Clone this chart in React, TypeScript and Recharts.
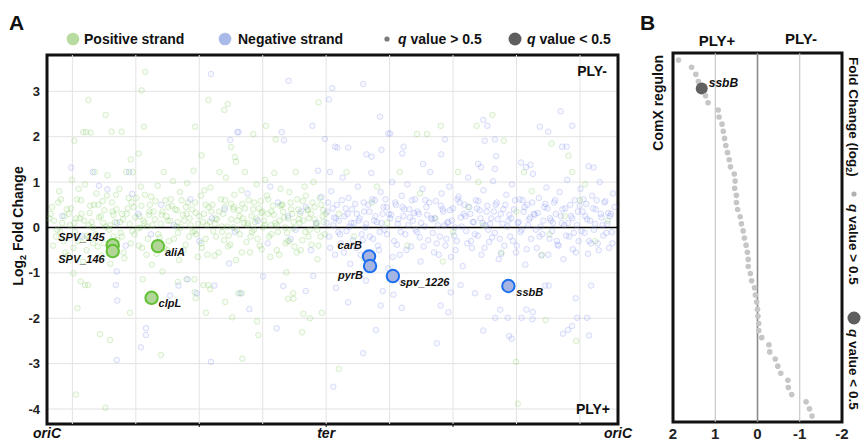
import { ScatterChart, Scatter, XAxis, YAxis, CartesianGrid, ReferenceLine, ReferenceArea } from 'recharts'

const FONT = '"Liberation Sans", Arial, Helvetica, sans-serif'

// genome position (arbitrary units, oriC -> ter -> oriC) and log2 fold change
const genomeTicks = [0, 600, 1100, 1600, 2250]
const genomeGrid = [100, 350, 600, 850, 1100, 1350, 1600, 1850, 2100]
const fcTicks = [-4, -3, -2, -1, 0, 1, 2, 3]

const positiveStrand: [number, number][] = [
  [20, 0.45], [35, -0.2], [48, 0.8], [60, 0.1], [72, -0.55], [85, 0.3], [98, 1.05], [110, -0.1], [118, 0.62], [130, 0.2],
  [142, -0.75], [150, 0.95], [163, 0.05], [170, 0.48], [182, -0.35], [195, 0.75], [205, 0.22], [214, -0.62], [226, 0.38], [238, 1.15],
  [245, -0.05], [256, 0.55], [268, 0.12], [277, -0.28], [285, 0.85], [296, 0.3], [305, -0.68], [318, 0.42], [326, 0.08], [338, 1.22],
  [345, -0.15], [352, 0.65], [364, 0.25], [375, -0.45], [386, 0.72], [394, 0.02], [405, 0.5], [413, -0.82], [425, 0.18], [436, 0.92],
  [444, -0.22], [455, 0.35], [466, 0.6], [474, -0.5], [485, 0.15], [497, 1.02], [505, 0.4], [516, -0.12], [524, 0.78], [535, 0.28],
  [546, -0.38], [556, 0.55], [565, 0.05], [577, 1.25], [586, 0.32], [594, -0.65], [606, 0.7], [615, 0.12], [625, -0.25], [636, 0.45],
  [644, 0.88], [655, -0.08], [664, 0.2], [676, -0.55], [685, 0.62], [694, 0.3], [705, 1.1], [716, -0.18], [725, 0.52], [734, 0.0],
  [745, -0.72], [756, 0.38], [766, 0.82], [775, 0.1], [786, -0.32], [795, 0.6], [806, 0.25], [815, -0.05], [826, 0.95], [835, 0.42],
  [846, -0.48], [855, 0.15], [866, 0.7], [875, -0.2], [884, 0.35], [896, 1.2], [905, 0.05], [915, -0.6], [925, 0.5], [934, 0.22],
  [946, -0.12], [955, 0.78], [966, 0.3], [975, -0.42], [986, 0.62], [995, 0.1], [1006, -0.28], [1015, 0.9], [1026, 0.4], [1035, -0.05],
  [1046, 0.55], [1055, 0.18], [1066, -0.7], [1075, 0.65], [1086, 0.25], [1095, -0.15],
  [28, 0.15], [55, 0.62], [66, -0.3], [90, 0.05], [104, -0.45], [125, 0.85], [136, 0.3], [158, -0.18], [176, 0.12], [188, 1.22],
  [200, -0.42], [219, 0.58], [232, 0.02], [250, -0.8], [262, 0.28], [272, 0.72], [290, -0.12], [300, 0.18], [312, 1.22], [330, -0.35],
  [342, 0.45], [358, -0.02], [370, 0.9], [380, 0.15], [398, -0.25], [410, 0.68], [420, 0.35], [432, -0.58], [448, 0.08], [460, 1.22],
  [470, 0.25], [480, -0.3], [492, 0.48], [510, 0.02], [520, -0.72], [530, 0.6], [541, 0.15], [552, 0.98], [560, -0.2], [572, 0.4],
  [582, -0.08], [600, 0.25], [610, -0.45], [620, 0.82], [630, 0.05], [648, 0.35], [660, -0.62], [670, 0.18], [680, 1.22], [690, -0.1],
  [700, 0.45], [710, 0.02], [722, -0.38], [738, 0.72], [750, 0.15], [760, -0.15], [770, 0.52], [780, 1.22], [790, 0.05], [800, -0.55],
  [812, 0.4], [820, 0.12], [830, -0.25], [842, 0.58], [850, 0.0], [860, 1.05], [870, 0.3], [880, -0.65], [890, 0.48], [900, 0.1],
  [910, -0.1], [920, 0.85], [930, 0.35], [940, -0.35], [950, 0.2], [960, 0.55], [970, -0.02], [980, 1.22], [990, 0.4], [1000, -0.5],
  [1010, 0.15], [1020, 0.7], [1030, -0.2], [1040, 0.3], [1050, 1.0], [1060, 0.05], [1070, -0.4], [1080, 0.5], [1090, 0.12],
  [15, 0.3], [40, -0.05], [78, 0.4], [115, 0.2], [148, -0.25], [185, 0.5], [222, 0.1], [258, 0.35], [295, -0.2], [333, 0.55],
  [368, 0.0], [402, 0.28], [440, -0.35], [478, 0.45], [515, 0.12], [550, 0.3], [588, -0.15], [625, 0.5], [662, 0.08], [698, -0.28],
  [735, 0.4], [772, 0.2], [808, -0.1], [845, 0.32], [882, 0.05], [918, 0.48], [955, -0.3], [992, 0.18], [1028, 0.38], [1065, -0.05],
  [1098, 0.3],
  [8, 0.2], [24, -0.4], [44, 0.55], [52, -0.1], [68, 0.25], [82, -0.62], [94, 0.42], [108, 0.1], [122, -0.3], [134, 0.6],
  [146, 0.15], [156, -0.5], [168, 0.32], [180, 0.0], [192, -0.15], [202, 0.5], [212, 0.25], [224, -0.35], [236, 0.7], [248, 0.05],
  [262, -0.2], [274, 0.4], [288, 0.12], [302, -0.55], [314, 0.3], [322, 0.65], [336, -0.08], [348, 0.22], [362, -0.4], [372, 0.48],
  [384, 0.1], [392, -0.6], [404, 0.35], [416, 0.05], [428, 0.58], [438, -0.15], [452, 0.28], [462, -0.45], [476, 0.15], [488, 0.62],
  [500, -0.25], [512, 0.38], [526, 0.0], [538, -0.5], [548, 0.45], [562, 0.2], [574, -0.1], [584, 0.55], [596, 0.08], [608, -0.35],
  [618, 0.3], [632, -0.6], [642, 0.12], [652, 0.5], [666, -0.2], [678, 0.35], [688, 0.02], [702, 0.6], [714, -0.42], [726, 0.18],
  [736, 0.45], [748, -0.05], [758, 0.25], [768, -0.55], [780, 0.42], [792, 0.1], [802, -0.2], [816, 0.55], [826, 0.2], [838, -0.4],
  [848, 0.35], [858, 0.05], [872, 0.62], [884, -0.15], [894, 0.28], [906, -0.5], [916, 0.15], [928, 0.5], [938, 0.0], [948, -0.3],
  [962, 0.4], [972, 0.12], [984, -0.55], [996, 0.3], [1008, 0.58], [1018, -0.1], [1032, 0.2], [1042, -0.38], [1054, 0.45], [1064, 0.1],
  [1078, -0.2], [1088, 0.38],
  [163, 2.81], [231, 2.48], [387, 3.43], [373, 3.02], [382, 2.22], [636, 2.81], [699, 2.59], [712, 2.72], [583, 2.22], [108, 1.91],
  [143, 2.1], [154, 2.1], [172, 2.09], [255, 2.11], [294, 2.11], [361, 1.63], [330, 1.5], [609, 1.59], [813, 2.06], [863, 2.24],
  [901, 1.94], [1070, 2.76], [725, 1.77], [740, 1.55], [745, 1.45],
  [104, -1.01], [133, -1.19], [150, -1.27], [162, -1.27], [120, -1.78], [209, -2.35], [248, -2.48], [449, -2.81], [770, -2.89], [114, -3.68],
  [230, -3.97], [327, -1.88], [626, -1.88], [730, -1.98], [828, -2.07], [833, -2.37], [1010, -1.9], [1036, -2.0], [1005, -2.31], [1083, -1.88],
  [950, -1.57], [971, -1.57], [586, -1.56], [582, -1.43], [455, -0.97], [377, -1.14], [515, -1.2], [550, -1.14], [581, -1.14], [616, -1.27],
  [636, -1.27], [643, -1.36], [702, -1.64], [754, -1.45], [767, -1.45], [943, -0.99], [970, -1.45],
  [1755, 2.48], [1458, 2.06], [1497, 2.06], [1552, 2.24], [1693, 2.24], [1800, 1.91], [2055, 1.58], [1988, 1.85], [1150, -3.12], [1848, -2.96],
  [1855, -3.88], [2085, -2.5], [1965, -2.04],
  [1150, 0.3], [1210, -0.2], [1280, 0.55], [1340, 0.1], [1420, -0.4], [1470, 0.75], [1530, 0.2], [1600, -0.1], [1660, 0.45], [1720, 0.05],
  [1790, -0.55], [1850, 0.35], [1910, 0.8], [1980, -0.15], [2040, 0.25], [2100, 0.6], [2160, -0.3], [2210, 0.15], [1180, 1.22], [1390, 1.22],
  [1620, 1.22], [1880, 1.22], [2070, 1.22], [1250, -0.7], [1560, -0.75], [1950, -0.6], [1300, 0.9], [1700, 1.0], [2120, 0.95],
]

const negativeStrand: [number, number][] = [
  [60, 0.25], [95, 1.32], [140, -0.2], [180, 1.22], [205, 0.92], [238, 0.84], [275, 0.1], [310, -0.4], [336, 0.74], [324, 1.22],
  [360, 0.3], [410, -0.15], [450, 0.5], [500, 0.05], [565, 0.62], [600, -0.3], [650, 0.2], [700, 0.4], [740, -0.1], [790, 0.75],
  [830, 0.15], [870, -0.35], [910, 0.55], [950, 0.25], [980, -0.05], [1020, 0.45], [1068, 1.25], [1081, 0.67], [1115, 1.22], [1040, -0.5],
  [880, 0.9], [1000, 0.35], [960, -0.25], [1060, 0.1],
  [646, 3.38], [952, 3.23], [1046, 2.24], [722, 1.93], [750, 2.1], [755, 2.1], [934, 1.92], [925, 2.1], [1095, 1.95], [275, -0.97],
  [271, -1.27], [277, -1.61], [390, -2.22], [390, -2.37], [370, -2.64], [275, -2.92], [646, -2.96], [905, -2.22], [1020, -1.4], [1049, -1.07],
  [797, -1.8], [851, -1.08], [762, -1.45], [931, -1.29], [590, -1.45], [660, -1.28], [518, -1.28], [554, -1.14], [718, -0.79], [485, -1.5],
  [1246, 3.16], [1124, 3.07], [1111, 2.82], [1312, 2.44], [2024, 2.56], [1719, 2.37], [1735, 2.24], [1942, 2.22], [1975, 2.11], [2070, 2.24],
  [1345, 2.07], [1352, 2.07], [1568, 1.94], [1725, 1.91], [1765, 1.94], [1405, 1.78], [1135, 1.78], [1144, 1.76], [1187, 1.76], [1553, 1.61],
  [1400, 1.63], [1259, 1.61], [1279, 1.56], [1770, 1.57], [2030, 1.78], [2048, 1.78], [1318, 1.71], [1482, 1.4], [1699, 1.4], [1710, 1.33],
  [1765, 1.29], [1868, 1.43], [1905, 1.38], [1888, 1.33], [2134, 1.35], [2154, 1.32],
  [1296, -2.26], [1246, -2.77], [1536, -2.55], [1128, -3.51], [1719, -2.27], [1821, -2.39], [1831, -2.45], [2033, -2.34], [2053, -2.26], [2069, -2.17],
  [2136, -2.38], [2089, -1.99], [2128, -1.99], [1913, -2.02], [1870, -1.99], [1766, -1.99], [1815, -1.99], [1398, -1.77], [1365, -1.48], [1187, -1.65],
  [1315, -1.72], [1551, -1.72], [1582, -1.87], [1591, -1.43], [1630, -1.27], [1686, -1.45], [1738, -1.53], [1786, -1.81], [1889, -1.81], [1914, -1.86],
  [1977, -1.28], [1963, -1.28], [2144, -1.28], [2083, -1.56], [1139, -1.33], [1257, -1.17], [1323, -1.4], [1399, -1.22],
  [1105, 0.35], [1112, -0.2], [1120, 0.8], [1128, 0.05], [1135, -0.6], [1142, 0.5], [1150, 0.15], [1158, -0.35], [1165, 1.1], [1172, 0.25],
  [1180, -0.08], [1188, 0.65], [1195, -0.8], [1202, 0.4], [1210, 0.1], [1218, -0.45], [1225, 0.9], [1232, 0.2], [1240, -0.15], [1248, 0.55],
  [1255, 0.0], [1262, -0.7], [1270, 0.35], [1278, 1.2], [1285, -0.25], [1292, 0.6], [1300, 0.12], [1308, -0.5], [1315, 0.78], [1322, 0.3],
  [1330, -0.05], [1338, 0.45], [1345, -0.9], [1352, 0.2], [1360, 1.0], [1368, -0.3], [1375, 0.5], [1382, 0.08], [1390, -0.6], [1398, 0.7],
  [1405, 0.25], [1412, -0.15], [1420, 0.95], [1428, 0.4], [1435, -0.42], [1442, 0.15], [1450, 0.62], [1458, -0.1], [1465, 0.3], [1472, -0.75],
  [1480, 0.85], [1488, 0.02], [1495, 0.45], [1502, -0.28], [1510, 1.22], [1518, 0.18], [1525, -0.55], [1532, 0.58], [1540, 0.05], [1548, -0.2],
  [1555, 0.75], [1562, 0.35], [1570, -0.4], [1578, 0.1], [1585, 0.9], [1592, -0.65], [1600, 0.42], [1608, 0.0], [1615, -0.3], [1622, 0.68],
  [1630, 0.22], [1638, -0.85], [1645, 0.5], [1652, -0.08], [1660, 1.1], [1668, 0.3], [1675, -0.45], [1682, 0.12], [1690, 0.6], [1698, -0.18],
  [1705, 0.38], [1712, -0.6], [1720, 0.82], [1728, 0.05], [1735, 0.48], [1742, -0.32], [1750, 0.2], [1758, 1.02], [1765, -0.12], [1772, 0.55],
  [1780, -0.7], [1788, 0.3], [1795, 0.08], [1802, -0.4], [1810, 0.72], [1818, 0.15], [1825, -0.2], [1832, 0.95], [1840, 0.4], [1848, -0.55],
  [1855, 0.1], [1862, 0.62], [1870, -0.05], [1878, 0.35], [1885, -0.82], [1892, 0.5], [1900, 0.18], [1908, -0.25], [1915, 1.18], [1922, 0.28],
  [1930, -0.45], [1938, 0.65], [1945, 0.02], [1952, -0.15], [1960, 0.45], [1968, 0.88], [1975, -0.6], [1982, 0.2], [1990, -0.08], [1998, 0.55],
  [2005, 0.3], [2012, -0.38], [2020, 0.78], [2028, 0.1], [2035, -0.7], [2042, 0.42], [2050, 1.05], [2058, -0.2], [2065, 0.25], [2072, -0.48],
  [2080, 0.6], [2088, 0.05], [2095, -0.3], [2102, 0.85], [2110, 0.35], [2118, -0.12], [2125, 0.52], [2132, -0.58], [2140, 0.15], [2148, 0.7],
  [2155, -0.05], [2162, 0.4], [2170, -0.35], [2178, 1.0], [2185, 0.22], [2192, -0.18], [2200, 0.58], [2208, 0.08], [2215, -0.45], [2222, 0.3],
  [2230, 0.75],
  [1108, 0.55], [1131, 0.22], [1154, -0.15], [1177, 0.42], [1199, 0.1], [1221, 0.3], [1244, -0.28], [1266, 0.5], [1289, 0.15], [1311, -0.1],
  [1334, 0.62], [1356, 0.28], [1379, -0.38], [1401, 0.45], [1424, 0.05], [1446, 0.32], [1469, -0.22], [1491, 0.6], [1514, 0.2], [1536, -0.35],
  [1559, 0.4], [1581, 0.12], [1604, -0.18], [1626, 0.55], [1649, 0.25], [1671, -0.3], [1694, 0.42], [1716, 0.1], [1739, -0.05], [1761, 0.35],
  [1784, -0.25], [1806, 0.5], [1829, 0.2], [1851, -0.4], [1874, 0.6], [1896, 0.05], [1919, 0.3], [1941, -0.2], [1964, 0.52], [1986, 0.15],
  [2009, -0.3], [2031, 0.4], [2054, 0.1], [2076, -0.12], [2099, 0.48], [2121, 0.25], [2144, -0.35], [2166, 0.6], [2189, 0.05], [2211, 0.32],
  [2226, -0.1],
  [1102, 0.1], [1116, -0.45], [1126, 0.42], [1138, 0.2], [1148, -0.1], [1162, 0.6], [1170, -0.55], [1184, 0.3], [1192, 0.02], [1206, -0.28],
  [1214, 0.52], [1228, 0.15], [1236, -0.6], [1250, 0.35], [1258, 0.08], [1272, -0.2], [1282, 0.62], [1294, 0.25], [1304, -0.4], [1318, 0.1],
  [1326, 0.45], [1340, -0.15], [1348, 0.3], [1362, -0.65], [1372, 0.55], [1384, 0.18], [1394, -0.1], [1408, 0.4], [1416, -0.5], [1430, 0.22],
  [1438, 0.6], [1452, -0.05], [1460, 0.35], [1474, 0.1], [1484, -0.42], [1498, 0.28], [1506, 0.55], [1520, -0.12], [1528, 0.2], [1544, -0.6],
  [1552, 0.48], [1566, 0.05], [1574, -0.25], [1588, 0.38], [1596, 0.15], [1610, -0.5], [1618, 0.62], [1634, 0.02], [1642, 0.3], [1656, -0.35],
  [1664, 0.45], [1678, 0.12], [1686, -0.15], [1700, 0.58], [1708, 0.2], [1724, -0.45], [1732, 0.35], [1746, 0.08], [1754, -0.22], [1768, 0.5],
  [1776, 0.18], [1790, -0.58], [1798, 0.4], [1814, 0.02], [1822, 0.28], [1836, -0.3], [1844, 0.6], [1858, 0.12], [1866, -0.1], [1882, 0.45],
  [1890, -0.48], [1904, 0.22], [1912, 0.55], [1926, -0.05], [1934, 0.32], [1948, -0.62], [1956, 0.15], [1972, 0.42], [1980, -0.25], [1994, 0.1],
  [2002, 0.6], [2016, -0.4], [2024, 0.25], [2038, 0.05], [2046, -0.18], [2062, 0.5], [2070, 0.2], [2084, -0.55], [2092, 0.35], [2106, -0.08],
  [2114, 0.62], [2128, 0.18], [2136, -0.3], [2152, 0.42], [2160, 0.08], [2174, -0.5], [2182, 0.3], [2196, 0.55], [2204, -0.12], [2218, 0.25],
  [2228, -0.35], [2236, 0.45],
]

// significant genes (q < 0.5)
const positiveHits = [
  { gene: 'SPV_145', pos: 259, fc: -0.39 },
  { gene: 'SPV_146', pos: 259, fc: -0.52 },
  { gene: 'aliA', pos: 437, fc: -0.41 },
  { gene: 'clpL', pos: 412, fc: -1.55 },
]
const negativeHits = [
  { gene: 'carB', pos: 1269, fc: -0.64 },
  { gene: 'pyrB', pos: 1273, fc: -0.85 },
  { gene: 'spv_1226', pos: 1363, fc: -1.07 },
  { gene: 'ssbB', pos: 1818, fc: -1.29 },
]

// panel B: ComX regulon, ranked
const comxFoldChange = [
  1.87, 1.56, 1.46, 1.4, 1.32, 1.23, 1.17, 0.93, 0.91, 0.84,
  0.81, 0.78, 0.75, 0.71, 0.67, 0.64, 0.55, 0.53, 0.54, 0.5,
  0.5, 0.47, 0.41, 0.38, 0.34, 0.31, 0.27, 0.24, 0.22, 0.22,
  0.17, 0.14, 0.07, 0.05, 0.02, 0.0, -0.01, -0.03, -0.03, -0.1,
  -0.27, -0.29, -0.42, -0.48, -0.55, -0.72, -0.73, -0.81, -1.15, -1.23,
  -1.29,
]
const comxSignificant = { row: 4, gene: 'ssbB' }
const comxTicks = [2, 1, 0, -1, -2]

const labelPlacement: Record<string, { dx: number; dy: number; anchor: 'start' | 'end' }> = {
  SPV_145: { dx: -8, dy: -4, anchor: 'end' },
  SPV_146: { dx: -8, dy: 12, anchor: 'end' },
  aliA: { dx: 7, dy: 10, anchor: 'start' },
  clpL: { dx: 7, dy: 9, anchor: 'start' },
  carB: { dx: -7, dy: -8, anchor: 'end' },
  pyrB: { dx: -7, dy: 13, anchor: 'end' },
  spv_1226: { dx: 7, dy: 10, anchor: 'start' },
  ssbB: { dx: 8, dy: 10, anchor: 'start' },
}

const toPoints = (rows: [number, number][]) => rows.map(([pos, fc]) => ({ pos, fc }))

const ring = (color: string) => (p: any) => (
  <circle cx={p.cx} cy={p.cy} r={2.8} fill={color} fillOpacity={0.06} stroke={color} strokeOpacity={0.28} strokeWidth={1} />
)

const hit = (fill: string, stroke: string) => (p: any) => {
  const lp = labelPlacement[p.payload.gene]
  return (
    <g>
      <circle cx={p.cx} cy={p.cy} r={6.2} fill={fill} stroke={stroke} strokeWidth={2} />
      <text x={p.cx + lp.dx} y={p.cy + lp.dy} textAnchor={lp.anchor} fontFamily={FONT} fontSize={11} fontWeight={700} fontStyle="italic" fill="#111">
        {p.payload.gene}
      </text>
    </g>
  )
}

const GenomeTick = (p: any) => {
  const v = p.payload.value
  const label = v === 0 || v === 2250 ? 'oriC' : v === 1100 ? 'ter' : ''
  return (
    <g>
      {v > 0 && v < 2250 && <line x1={p.x} x2={p.x} y1={p.y - 6} y2={p.y - 3} stroke="#111" strokeWidth={1} />}
      {label && (
        <text x={p.x} y={p.y + 8} textAnchor="middle" fontFamily={FONT} fontSize={14} fontWeight={700} fontStyle="italic" fill="#111">
          {label}
        </text>
      )}
    </g>
  )
}

function PanelA() {
  return (
    <ScatterChart width={640} height={441} margin={{ top: 55, right: 22, bottom: 0, left: 12 }}>
      <CartesianGrid vertical={false} stroke="#e3e3e3" />
      {genomeGrid.map((g) => (
        <ReferenceLine key={g} x={g} stroke="#e3e3e3" />
      ))}
      <XAxis type="number" dataKey="pos" domain={[0, 2250]} ticks={genomeTicks} interval={0} allowDataOverflow
        height={17} tickSize={3} tickMargin={3} tickLine={false} axisLine={false} tick={GenomeTick} />
      <YAxis type="number" dataKey="fc" domain={[-4.33, 3.8]} ticks={fcTicks} interval={0} allowDataOverflow
        width={35} tickSize={5} tickMargin={2} tickLine={false} axisLine={false}
        tick={{ fontSize: 13, fontWeight: 700, fill: '#222', fontFamily: FONT }} />
      <Scatter data={toPoints(positiveStrand)} shape={ring('#7cc85a')} isAnimationActive={false} />
      <Scatter data={toPoints(negativeStrand)} shape={ring('#7f8cf0')} isAnimationActive={false} />
      <ReferenceLine y={0} stroke="#000" strokeWidth={1.6} />
      <Scatter data={positiveHits} shape={hit('#b2d697', '#63c136')} isAnimationActive={false} />
      <Scatter data={negativeHits} shape={hit('#a6b4e2', '#1d6ff0')} isAnimationActive={false} />
      <ReferenceArea x1={0} x2={2250} y1={-4.33} y2={3.8} fill="none" stroke="#111" strokeWidth={3} />
    </ScatterChart>
  )
}

const comxDot = (p: any) => {
  if (p.payload.row === comxSignificant.row) {
    return (
      <g>
        <circle cx={p.cx} cy={p.cy} r={6} fill="#606060" />
        <text x={p.cx + 7} y={p.cy - 2} fontFamily={FONT} fontSize={12} fontWeight={700} fontStyle="italic" fill="#111">
          {comxSignificant.gene}
        </text>
      </g>
    )
  }
  return <circle cx={p.cx} cy={p.cy} r={2.8} fill="#c6c6c6" />
}

function PanelB() {
  const data = comxFoldChange.map((fc, row) => ({ fc, row }))
  const rows = comxFoldChange.map((_, i) => i)
  return (
    <ScatterChart width={222} height={441} margin={{ top: 53, right: 20, bottom: 0, left: 25 }}>
      <CartesianGrid vertical={false} stroke="#ebebeb" />
      <ReferenceLine x={1} stroke="#bdbdbd" />
      <ReferenceLine x={-1} stroke="#bdbdbd" />
      <ReferenceLine x={0} stroke="#8a8a8a" strokeWidth={1.6} />
      <XAxis type="number" dataKey="fc" domain={[-2, 2]} reversed ticks={comxTicks} interval={0} allowDataOverflow
        height={19} tickSize={4} tickMargin={2} tickLine={false} axisLine={false}
        tick={{ fontSize: 15, fontWeight: 700, fill: '#222', fontFamily: FONT }} />
      <YAxis type="number" dataKey="row" domain={[-1, 50.85]} reversed ticks={rows} interval={0} allowDataOverflow
        width={8} tickSize={4} tick={false} axisLine={false} tickLine={{ stroke: '#111', strokeWidth: 1.5 }} />
      <Scatter data={data} shape={comxDot} isAnimationActive={false} />
      <ReferenceArea x1={-2} x2={2} y1={-1} y2={50.85} fill="none" stroke="#111" strokeWidth={3} />
    </ScatterChart>
  )
}

function Overlay() {
  const t = { fontFamily: FONT, fontWeight: 700, fill: '#111' } as const
  return (
    <svg width={862} height={441} style={{ position: 'absolute', left: 0, top: 0, pointerEvents: 'none' }}>
      <text x={9} y={30} fontSize={21} {...t}>A</text>
      <text x={640} y={30} fontSize={21} {...t}>B</text>

      <circle cx={73} cy={39} r={6.3} fill="#b8db9f" />
      <text x={84} y={44} fontSize={14} {...t}>Positive strand</text>
      <circle cx={225} cy={39} r={6.3} fill="#a9b9e8" />
      <text x={238} y={44} fontSize={14} {...t}>Negative strand</text>
      <circle cx={387} cy={39} r={2.6} fill="#7a7a7a" />
      <text x={398} y={44} fontSize={14} {...t}><tspan fontStyle="italic">q</tspan> value &gt; 0.5</text>
      <circle cx={515} cy={39} r={6.5} fill="#5e5e5e" />
      <text x={527} y={44} fontSize={14} {...t}><tspan fontStyle="italic">q</tspan> value &lt; 0.5</text>

      <text x={607} y={76} fontSize={14} textAnchor="end" {...t}>PLY-</text>
      <text x={610} y={414} fontSize={14} textAnchor="end" {...t}>PLY+</text>

      <text transform="translate(23,226) rotate(-90)" textAnchor="middle" fontSize={14} {...t}>
        Log<tspan fontSize={9} dy={3}>2</tspan><tspan dy={-3}> Fold Change</tspan>
      </text>

      <text x={717} y={46} fontSize={15} textAnchor="middle" {...t}>PLY+</text>
      <text x={801} y={44} fontSize={15} textAnchor="middle" {...t}>PLY-</text>
      <text transform="translate(663,55) rotate(-90)" textAnchor="end" fontSize={14} {...t}>ComX regulon</text>

      <g transform="translate(849,57) rotate(90)">
        <text x={0} y={0} fontSize={13.5} {...t}>
          Fold Change (log<tspan fontSize={9} dy={3}>2</tspan><tspan dy={-3}>)</tspan>
        </text>
        <circle cx={137} cy={-5} r={2.6} fill="#b0b0b0" />
        <text x={147} y={0} fontSize={13.5} {...t}><tspan fontStyle="italic">q</tspan> value &gt; 0.5</text>
        <circle cx={261} cy={-5} r={6.5} fill="#5e5e5e" />
        <text x={272} y={0} fontSize={13.5} {...t}><tspan fontStyle="italic">q</tspan> value &lt; 0.5</text>
      </g>
    </svg>
  )
}

export default function App() {
  return (
    <div style={{ position: 'absolute', left: 0, top: 0, width: 862, height: 441, background: '#fff', fontFamily: FONT }}>
      <div style={{ position: 'absolute', left: 0, top: 0 }}>
        <PanelA />
      </div>
      <div style={{ position: 'absolute', left: 640, top: 0 }}>
        <PanelB />
      </div>
      <Overlay />
    </div>
  )
}
